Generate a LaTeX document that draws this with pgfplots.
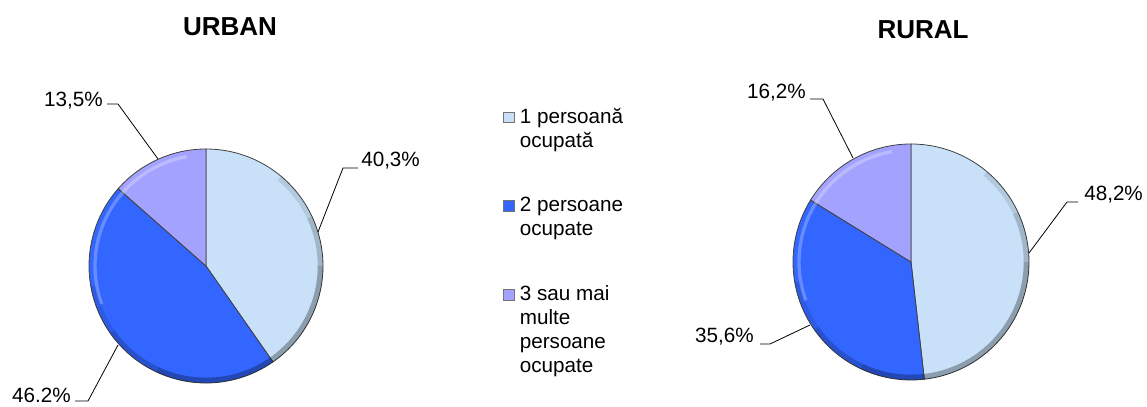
\documentclass[border=0pt]{standalone}
\usepackage{pgfplots}
\pgfplotsset{compat=1.18}
\usepackage{fontspec}
\setmainfont{Liberation Sans}
\definecolor{c1}{HTML}{C8E1F8}
\definecolor{c2}{HTML}{3366FF}
\definecolor{c3}{HTML}{A3A3FF}
% slice: cx cy r start end colour extra-options
\newcommand{\slice}[7]{%
  \addplot[fill=#6, draw=black!75, line width=0.6pt, domain=#4:#5, samples=90, variable=\t, #7]
    ({#1+#3*cos(\t)},{#2+#3*sin(\t)}) -- (axis cs:#1,#2) -- cycle;
}
% rim shading: cx cy r
\newcommand{\rim}[3]{%
  \addplot[draw=black, opacity=0.10, line width=4pt, domain=-170:50, samples=90, variable=\t, forget plot]
    ({#1+(#3-2.6)*cos(\t)},{#2+(#3-2.6)*sin(\t)});
  \addplot[draw=black, opacity=0.10, line width=4pt, domain=-145:25, samples=90, variable=\t, forget plot]
    ({#1+(#3-2.6)*cos(\t)},{#2+(#3-2.6)*sin(\t)});
  \addplot[draw=black, opacity=0.12, line width=4pt, domain=-115:0, samples=90, variable=\t, forget plot]
    ({#1+(#3-2.6)*cos(\t)},{#2+(#3-2.6)*sin(\t)});
  \addplot[draw=white, opacity=0.25, line width=2.5pt, domain=100:200, samples=60, variable=\t, forget plot]
    ({#1+(#3-6)*cos(\t)},{#2+(#3-6)*sin(\t)});
}
\newcommand{\labfont}{\fontsize{15.5}{18}\selectfont}
\begin{document}
\begin{tikzpicture}
\useasboundingbox (0,0) rectangle (860.25pt,305.25pt);
\begin{axis}[
  at={(0,0)}, anchor=south west,
  width=860.25pt, height=305.25pt, scale only axis,
  xmin=0, xmax=1147, ymin=0, ymax=407,
  hide axis, clip=false,
  legend style={at={(axis cs:503,302)}, anchor=north west, draw=none, fill=none,
    font=\fontsize{15.5}{18}\selectfont, row sep=50pt,
    cells={anchor=base west}, inner sep=0pt, column sep=2pt},
  legend image code/.code={\draw[#1, draw=black!55, line width=0.4pt] (0pt,0.5pt) rectangle (8pt,8.5pt);},
]
% URBAN: 40.3, 46.2, 13.5 (clockwise from 12 o'clock)
\slice{206}{141}{117}{90-3.6*40.3}{90}{c1}{}
\addlegendentry{\parbox[t]{3.6cm}{\raggedright 1 persoană\\ocupată}}
\slice{206}{141}{117}{90-3.6*(40.3+46.2)}{90-3.6*40.3}{c2}{}
\addlegendentry{\parbox[t]{3.6cm}{\raggedright 2 persoane\\ocupate}}
\slice{206}{141}{117}{90-3.6*(40.3+46.2+13.5)}{90-3.6*(40.3+46.2)}{c3}{}
\addlegendentry{\parbox[t]{3.6cm}{\raggedright 3 sau mai\\multe\\persoane\\ocupate}}
\rim{206}{141}{117}
% RURAL: 48.2, 35.6, 16.2
\slice{911}{145}{118}{90-3.6*48.2}{90}{c1}{forget plot}
\slice{911}{145}{118}{90-3.6*(48.2+35.6)}{90-3.6*48.2}{c2}{forget plot}
\slice{911}{145}{118}{90-3.6*(48.2+35.6+16.2)}{90-3.6*(48.2+35.6)}{c3}{forget plot}
\rim{911}{145}{118}
% leader lines
\addplot[black, line width=0.6pt, forget plot] coordinates {(107,303) (118,303) (158,248)};
\addplot[black, line width=0.6pt, forget plot] coordinates {(358,239) (343,239) (318,175)};
\addplot[black, line width=0.6pt, forget plot] coordinates {(75,6) (88,6) (118,62)};
\addplot[black, line width=0.6pt, forget plot] coordinates {(810,308) (823,308) (853,249)};
\addplot[black, line width=0.6pt, forget plot] coordinates {(1078,205) (1067,205) (1029,154)};
\addplot[black, line width=0.6pt, forget plot] coordinates {(760,63) (770,63) (810,82)};
% labels
\node[anchor=east, inner sep=0pt, font=\labfont] at (axis cs:71,12) {46.2\%};
\node[anchor=east, inner sep=0pt, font=\labfont] at (axis cs:103,306) {13,5\%};
\node[anchor=west, inner sep=0pt, font=\labfont] at (axis cs:361,246) {40,3\%};
\node[anchor=east, inner sep=0pt, font=\labfont] at (axis cs:806,314) {16,2\%};
\node[anchor=west, inner sep=0pt, font=\labfont] at (axis cs:1084,212) {48,2\%};
\node[anchor=east, inner sep=0pt, font=\labfont] at (axis cs:754,70) {35,6\%};
% titles
\node[font=\fontsize{19.5}{23}\selectfont\bfseries] at (axis cs:230,380) {URBAN};
\node[font=\fontsize{19.5}{23}\selectfont\bfseries] at (axis cs:923,377) {RURAL};
\end{axis}
\end{tikzpicture}
\end{document}
